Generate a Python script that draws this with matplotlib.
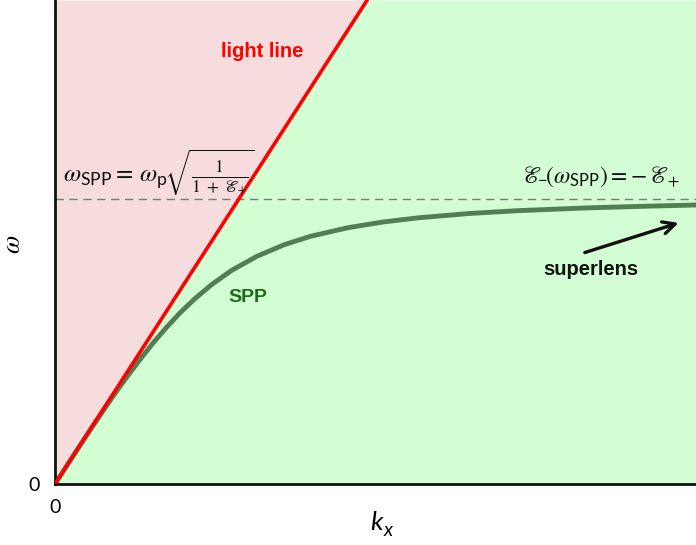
import matplotlib
matplotlib.use("Agg")
import matplotlib.pyplot as plt

plt.rcParams["mathtext.fontset"] = "custom"
plt.rcParams["mathtext.rm"] = "STIXGeneral"
plt.rcParams["mathtext.it"] = "STIXGeneral:italic"
plt.rcParams["mathtext.sf"] = "Lato"

# Dispersion data (k_x in units where the light line is omega = k, omega_SPP = 1)
light_k = [0.0, 1.70]
light_w = [0.0, 1.70]

spp_k = [0.0, 0.100, 0.202, 0.307, 0.362, 0.419, 0.478, 0.540, 0.607, 0.679,
         0.760, 0.852, 0.961, 1.100, 1.246, 1.391, 1.593, 1.783, 1.978,
         2.254, 2.518, 2.904, 3.178, 3.490]
spp_w = [0.0, 0.100, 0.200, 0.300, 0.350, 0.400, 0.450, 0.500, 0.550, 0.600,
         0.650, 0.700, 0.750, 0.800, 0.840, 0.870, 0.900, 0.920, 0.935,
         0.950, 0.960, 0.970, 0.975, 0.980]

omega_spp = 1.0
k_max = 3.49
w_max = 1.70

x_ticks = [0]
x_tick_labels = ["0"]
y_ticks = [0]
y_tick_labels = ["0"]

fig = plt.figure(figsize=(6.96, 5.45), dpi=100)
ax = fig.add_axes([55 / 696, 61 / 545, 641 / 696, 484 / 545])
ax.set_xlim(0, k_max)
ax.set_ylim(0, w_max)

# Regions above and below the light line
ax.fill_between([0, light_k[1], k_max], [0, light_w[1], w_max], w_max,
                color="#F6DCDC", lw=0, zorder=0)
ax.fill_between([0, light_k[1], k_max], 0, [0, light_w[1], w_max],
                color="#D3FDD3", lw=0, zorder=0)

# Surface plasmon frequency asymptote
ax.axhline(omega_spp, color="#7A7A7A", lw=1.0, ls=(0, (6, 4)), zorder=1)

# SPP dispersion curve and light line
ax.plot(spp_k, spp_w, color="#527F52", lw=3.5, solid_capstyle="round",
        solid_joinstyle="round", zorder=2)
ax.plot(light_k, light_w, color="#FF0000", lw=2.6, zorder=3)

for side in ("top", "right"):
    ax.spines[side].set_visible(False)
for side in ("left", "bottom"):
    ax.spines[side].set_linewidth(2)
    ax.spines[side].set_color("#111111")

ax.set_xticks(x_ticks)
ax.set_xticklabels(x_tick_labels, fontsize=14, family="Lato")
ax.set_yticks(y_ticks)
ax.set_yticklabels(y_tick_labels, fontsize=14, family="Lato")
ax.tick_params(axis="x", length=0, pad=11)
ax.tick_params(axis="y", length=0, pad=11)

# Axis labels
ax.set_ylabel(r"$\omega$", fontsize=19)
ax.yaxis.set_label_coords(-0.045, 0.496)
ax.text(0.512, -0.095, "k", fontsize=19, family="Lato", style="italic",
        transform=ax.transAxes, ha="right", va="baseline")
ax.text(0.513, -0.108, "x", fontsize=14, family="Lato", style="italic",
        transform=ax.transAxes, ha="left", va="baseline")

# Formulas
ax.text(0.045, 1.058,
        r"$\omega_{\mathsf{SPP}} = \,\omega_{\mathsf{p}}\!\sqrt{\frac{1}{1\;+\;ℰ_{+}}}$",
        fontsize=18, ha="left", va="baseline", color="#111111")
ax.text(2.54, 1.058,
        r"$ℰ_{\!\mathsf{-}}\!(\omega_{\mathsf{SPP}}) = -\,ℰ_{+}$",
        fontsize=17, ha="left", va="baseline", color="#111111")

ax.text(1.13, 1.52, "light line", color="#FF0000", fontsize=14.5,
        fontweight="bold", family="Liberation Sans", ha="center", va="center")
ax.text(1.05, 0.655, "SPP", color="#1E6B1E", fontsize=14,
        fontweight="bold", family="Liberation Sans", ha="center", va="center")
ax.text(2.92, 0.755, "superlens", color="#111111", fontsize=14.5,
        fontweight="bold", family="Liberation Sans", ha="center", va="center")

ax.annotate("", xy=(3.41, 0.92), xytext=(2.87, 0.81),
            arrowprops=dict(arrowstyle="->", lw=2.4, color="#111111",
                            mutation_scale=22))

fig.savefig("out.png", dpi=100)
